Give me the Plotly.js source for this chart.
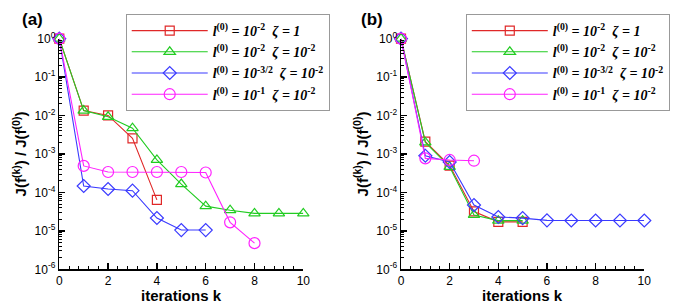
<!DOCTYPE html>
<html><head><meta charset="utf-8">
<script src="https://cdn.plot.ly/plotly-3.0.1.min.js"></script>
<style>html,body{margin:0;padding:0;background:#fff;}#chart{width:687px;height:304px;}</style>
</head><body><div id="chart"></div>
<script>
// ---- data ----
const kRedA = [0,1,2,3,4];
const redA = [1, 0.0135, 0.0101, 0.00255, 6.4e-5];
const kGreenA = [0,1,2,3,4,5,6,7,8,9,10];
const greenA = [1, 0.0135, 0.0093, 0.0047, 7.0e-4, 1.65e-4, 4.4e-5, 3.45e-5, 2.85e-5, 2.85e-5, 2.85e-5];
const kBlueA = [0,1,2,3,4,5,6];
const blueA = [1, 1.47e-4, 1.23e-4, 1.11e-4, 2.16e-5, 1.05e-5, 1.05e-5];
const kMagA = [0,1,2,3,4,5,6,7,8];
const magA = [1, 4.9e-4, 3.4e-4, 3.4e-4, 3.4e-4, 3.4e-4, 3.3e-4, 1.67e-5, 4.8e-6];

const kRedB = [0,1,2,3,4,5];
const redB = [1, 2.1e-3, 5.0e-4, 3.2e-5, 1.72e-5, 1.72e-5];
const kGreenB = [0,1,2,3,4,5];
const greenB = [1, 2.0e-3, 4.6e-4, 2.6e-5, 1.85e-5, 1.85e-5];
const kBlueB = [0,1,2,3,4,5,6,7,8,9,10];
const blueB = [1, 9.0e-4, 6.2e-4, 4.7e-5, 2.3e-5, 2.15e-5, 1.88e-5, 1.86e-5, 1.86e-5, 1.86e-5, 1.86e-5];
const kMagB = [0,1,2,3];
const magB = [1, 7.7e-4, 7.0e-4, 6.7e-4];

const seriesNames = [
  "<b><i>l</i><sup>(0)</sup><i> = 10</i><sup>-2</sup><i>\u00a0\u00a0ζ = 1</i></b>",
  "<b><i>l</i><sup>(0)</sup><i> = 10</i><sup>-2</sup><i>\u00a0\u00a0ζ = 10</i><sup>-2</sup></b>",
  "<b><i>l</i><sup>(0)</sup><i> = 10</i><sup>-3/2</sup><i>\u00a0\u00a0ζ = 10</i><sup>-2</sup></b>",
  "<b><i>l</i><sup>(0)</sup><i> = 10</i><sup>-1</sup><i>\u00a0\u00a0ζ = 10</i><sup>-2</sup></b>"
];
const yTickVals = [1, 0.1, 0.01, 0.001, 1e-4, 1e-5, 1e-6];
const yTickText = ["10<sup>0</sup>","10<sup>-1</sup>","10<sup>-2</sup>","10<sup>-3</sup>","10<sup>-4</sup>","10<sup>-5</sup>","10<sup>-6</sup>"];
const xTickVals = [0,2,4,6,8,10];
const xTitle = '<b>iterations k</b>';
const yTitle = '<b>J(f<sup>(k)</sup>) / J(f<sup>(0)</sup>)</b>';

// ---- styles ----
const colors = ['#e02828', '#22cc22', '#3a3aff', '#ff22ff'];
const symbols = ['square-open', 'triangle-up-open', 'diamond-open', 'circle-open'];
const sizes = [9, 10, 10, 11];

function mk(x, y, i, ax, leg) {
  return {
    x: x, y: y, type: 'scatter', mode: 'lines+markers',
    name: seriesNames[i], xaxis: ax[0], yaxis: ax[1], legend: leg,
    line: {color: colors[i], width: 1.1},
    marker: {symbol: symbols[i], size: sizes[i], color: colors[i], line: {color: colors[i], width: 1.2}},
    cliponaxis: false
  };
}

const data = [
  mk(kRedA, redA, 0, ['x','y'], 'legend'),
  mk(kGreenA, greenA, 1, ['x','y'], 'legend'),
  mk(kBlueA, blueA, 2, ['x','y'], 'legend'),
  mk(kMagA, magA, 3, ['x','y'], 'legend'),
  mk(kRedB, redB, 0, ['x2','y2'], 'legend2'),
  mk(kGreenB, greenB, 1, ['x2','y2'], 'legend2'),
  mk(kBlueB, blueB, 2, ['x2','y2'], 'legend2'),
  mk(kMagB, magB, 3, ['x2','y2'], 'legend2')
];

const minorY = [];
for (let d = 0; d >= -6; d--) for (let m = 2; m <= 9; m++) { const v = m * Math.pow(10, d - 1); if (v >= 1e-6) minorY.push(v); }

const font = {family: 'Liberation Sans, Arial, sans-serif', color: '#000'};
function xax(domain, anchor) {
  return {
    domain: domain, anchor: anchor, range: [0, 10], showgrid: false, zeroline: false,
    showline: true, linecolor: '#000', linewidth: 1.5, mirror: false,
    ticks: 'inside', ticklen: 6, tickwidth: 1.5, tickcolor: '#000',
    tickvals: xTickVals, ticktext: xTickVals.map(String),
    tickfont: {family: font.family, size: 12, color: '#000'},
    minor: {ticks: 'inside', ticklen: 3, tickwidth: 1, tickcolor: '#000', dtick: 0.4, tick0: 0, showgrid: false}
  };
}
function yax(anchor) {
  return {
    domain: [0.1141, 0.8727], anchor: anchor, type: 'log', range: [-6, 0],
    showgrid: false, zeroline: false, showline: true, linecolor: '#000', linewidth: 1.5,
    ticks: 'inside', ticklen: 6, tickwidth: 1.5, tickcolor: '#000',
    tickvals: yTickVals, ticktext: yTickText,
    tickfont: {family: font.family, size: 12, color: '#000'},
    minor: {ticks: 'inside', ticklen: 3, tickwidth: 1, tickcolor: '#000', tickvals: minorY, showgrid: false},
    title: {text: yTitle, font: {family: font.family, size: 15, color: '#000'}, standoff: 4}
  };
}

const legendBase = {
  xanchor: 'left', yanchor: 'top', bgcolor: '#fff', bordercolor: '#999', borderwidth: 1,
  font: {family: 'Liberation Serif, Times New Roman, serif', size: 14, color: '#000'},
  itemwidth: 76, tracegroupgap: 0
};

const titleFont = {family: font.family, size: 15, color: '#000'};
const layout = {
  width: 687, height: 304, margin: {l: 0, r: 0, t: 0, b: 0},
  paper_bgcolor: '#fff', plot_bgcolor: '#fff', showlegend: true,
  xaxis: xax([0.0863, 0.4415], 'y'),
  yaxis: yax('x'),
  xaxis2: xax([0.5837, 0.9378], 'y2'),
  yaxis2: yax('x2'),
  legend: Object.assign({x: 0.183, y: 1 - 14/304}, legendBase),
  legend2: Object.assign({x: 0.678, y: 1 - 14/304}, legendBase),
  annotations: [
    {text: '<b>(a)</b>', xref: 'paper', yref: 'paper', x: 32/687, y: 1 - 20/304, xanchor: 'center', yanchor: 'middle', showarrow: false, font: {family: font.family, size: 17, color: '#000'}},
    {text: '<b>(b)</b>', xref: 'paper', yref: 'paper', x: 372/687, y: 1 - 20/304, xanchor: 'center', yanchor: 'middle', showarrow: false, font: {family: font.family, size: 17, color: '#000'}},
    {text: xTitle, xref: 'x domain', yref: 'paper', x: 0.5, y: 1 - 295/304, xanchor: 'center', yanchor: 'middle', showarrow: false, font: titleFont},
    {text: xTitle, xref: 'x2 domain', yref: 'paper', x: 0.5, y: 1 - 295/304, xanchor: 'center', yanchor: 'middle', showarrow: false, font: titleFont}
  ]
};

Plotly.newPlot('chart', data, layout, {displayModeBar: false, staticPlot: true});
</script></body></html>
